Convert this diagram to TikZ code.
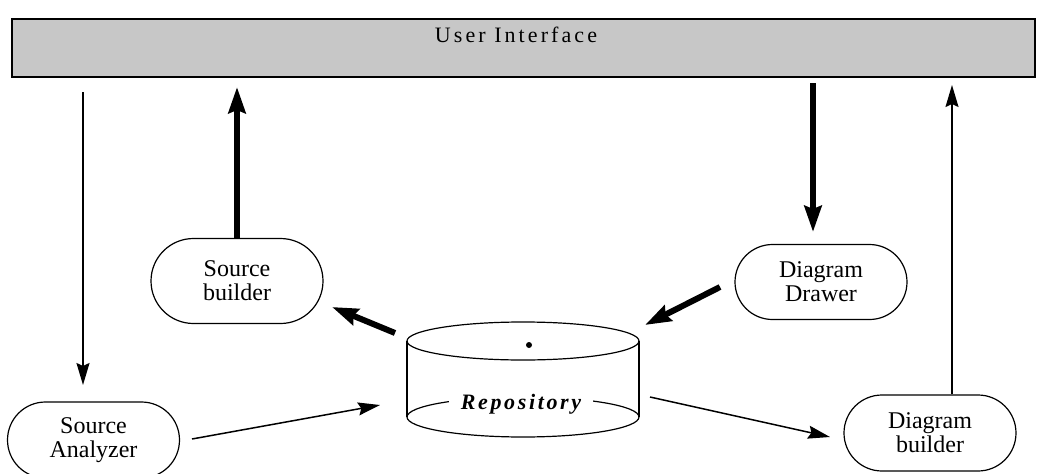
\documentclass[tikz,border=0pt]{standalone}
\usepackage{fontspec}
\setmainfont{Liberation Serif}
\newfontfamily\uifont[LetterSpace=14]{Liberation Serif}
\newfontfamily\repofont[LetterSpace=12]{Liberation Serif}
\usetikzlibrary{arrows.meta,shapes.misc}
\begin{document}
\begin{tikzpicture}[x=1pt,y=-1pt,
  box/.style={draw, line width=1.2pt, rounded rectangle, minimum width=172pt, inner sep=0pt, align=center, font=\fontsize{24}{24}\selectfont},
  thinarr/.style={line width=1.5pt, -{Stealth[length=22pt,width=13pt,inset=3pt]}},
  thickarr/.style={line width=6pt, -{Stealth[length=26pt,width=17pt,inset=3pt]}},
  cyl/.style={line width=1.2pt}]
\useasboundingbox (0,0) rectangle (1037,474);
% user interface bar
\node[draw, line width=1.2pt, fill=black!22, minimum width=1023pt, minimum height=58pt, inner sep=0pt] (ui) at (523.5,48) {};
\node[font=\uifont\fontsize{22}{24}\selectfont, inner sep=0pt, anchor=base] (uilabel) at (516,42) {User Interface};
% nodes
\node[box, minimum height=85pt] (sb) at (237,281) {Source\\builder};
\node[box, minimum height=75pt] (dd) at (821,282) {Diagram\\Drawer};
\node[box, minimum height=76pt] (sa) at (93.5,440) {Source\\Analyzer};
\node[box, minimum height=76pt] (db) at (930,433) {Diagram\\builder};
% repository cylinder
\node[minimum width=232pt, minimum height=115pt, inner sep=0pt] (repo) at (523,380) {};
\draw[cyl] (523,341) ellipse [x radius=116pt, y radius=19pt];
\draw[cyl] (407,341) -- (407,417) (639,341) -- (639,417);
\draw[cyl] (523,417) ellipse [x radius=116pt, y radius=20pt];
\fill (529,345) circle (3pt);
\node[fill=white, inner xsep=12pt, inner ysep=1pt, font=\repofont\bfseries\itshape\fontsize{22}{24}\selectfont] (repolabel) at (521,404) {Repository};
% connector end points
\coordinate (uiA) at (83,92);
\coordinate (saTop) at (83,385);
\coordinate (uiB) at (237,87);
\coordinate (uiC) at (813,83);
\coordinate (ddTop) at (813,232);
\coordinate (uiD) at (952,85);
\coordinate (repoNW) at (395,333);
\coordinate (sbTip) at (332,307);
\coordinate (ddTail) at (720,287);
\coordinate (repoNE) at (645,325);
\coordinate (saTail) at (192,439);
\coordinate (repoW) at (380,405);
\coordinate (repoE) at (650,397);
\coordinate (dbTip) at (830,437);
% connectors
\draw[thinarr] (uiA) -- (saTop);
\draw[thickarr] (sb.north) -- (uiB);
\draw[thickarr] (uiC) -- (ddTop);
\draw[thinarr] ([xshift=22pt]db.north) -- (uiD);
\draw[thickarr] (repoNW) -- (sbTip);
\draw[thickarr] (ddTail) -- (repoNE);
\draw[thinarr] (saTail) -- (repoW);
\draw[thinarr] (repoE) -- (dbTip);
\end{tikzpicture}
\end{document}
